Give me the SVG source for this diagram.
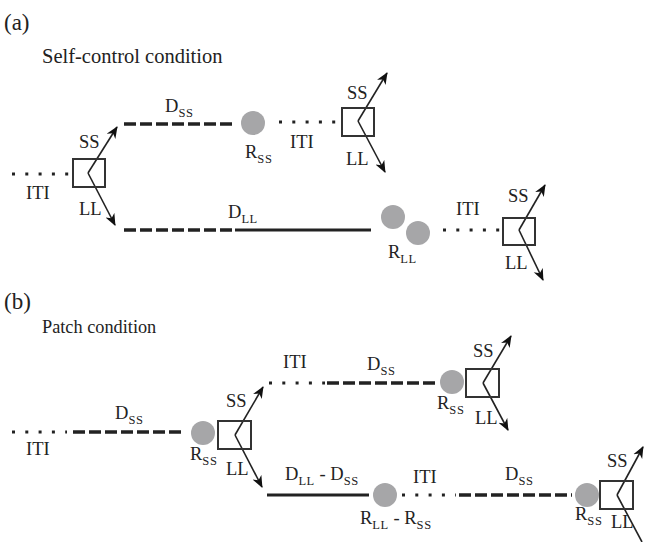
<svg xmlns="http://www.w3.org/2000/svg" width="645" height="542" viewBox="0 0 645 542">
<style>
text{font-family:"Liberation Serif","Times New Roman",serif;fill:#222;}
.lab{font-size:18.5px;}
.sub{font-size:12.5px;letter-spacing:0.6px;}
.title{font-size:23px;}
.box{fill:none;stroke:#333;stroke-width:2;}
.rew{fill:#a6a6a8;}
.dash{stroke:#222;stroke-width:3.5;stroke-dasharray:12 4;fill:none;}
.solid{stroke:#222;stroke-width:3.2;fill:none;}
.dots{stroke:#222;stroke-width:3;stroke-dasharray:3 10.3;fill:none;}
.arr{stroke:#222;stroke-width:1.6;fill:none;marker-end:url(#ah);}
.arrn{stroke:#222;stroke-width:1.6;fill:none;}
</style>
<defs>
<marker id="ah" markerUnits="userSpaceOnUse" markerWidth="13" markerHeight="11" refX="11" refY="5" orient="auto" viewBox="0 0 13 10">
<path d="M0,0 L12,5 L0,10 L3.5,5 z" fill="#111"/>
</marker>
</defs>

<text class="title" x="4" y="30">(a)</text>
<text x="42" y="63" style="font-size:20.5px">Self-control condition</text>
<text class="title" x="4" y="309">(b)</text>
<text x="42" y="333" style="font-size:18.3px">Patch condition</text>

<g id="connectors">
<!-- panel a -->
<line class="dots" x1="12" y1="174" x2="70" y2="174"/>
<line class="arr" x1="88" y1="173" x2="117" y2="127"/>
<line class="arr" x1="88" y1="173" x2="115" y2="225"/>
<line class="dash" x1="124" y1="124" x2="235" y2="124"/>
<line class="dash" x1="124" y1="230" x2="235" y2="230"/>
<line class="solid" x1="235" y1="230" x2="371" y2="230"/>
<line class="dots" x1="279" y1="122" x2="337" y2="122"/>
<line class="arr" x1="358" y1="121" x2="387" y2="73"/>
<line class="arr" x1="358" y1="121" x2="385" y2="172"/>
<line class="dots" x1="443" y1="230" x2="500" y2="230"/>
<line class="arr" x1="519" y1="230" x2="545" y2="185"/>
<line class="arr" x1="519" y1="230" x2="543" y2="280"/>
<!-- panel b -->
<line class="dots" x1="12" y1="432" x2="67" y2="432"/>
<line class="dash" x1="73" y1="432" x2="184" y2="432"/>
<line class="arr" x1="235" y1="435" x2="263" y2="387"/>
<line class="arr" x1="235" y1="435" x2="262" y2="487"/>
<line class="dots" x1="269" y1="383" x2="325" y2="383"/>
<line class="dash" x1="327" y1="383" x2="438" y2="383"/>
<line class="arr" x1="483" y1="383" x2="511" y2="336"/>
<line class="arr" x1="483" y1="383" x2="508" y2="430"/>
<line class="solid" x1="267" y1="495" x2="369" y2="495"/>
<line class="dots" x1="402" y1="495" x2="456" y2="495"/>
<line class="dash" x1="459" y1="495" x2="572" y2="495"/>
<line class="arr" x1="617" y1="495" x2="643" y2="447"/>
<line class="arrn" x1="617" y1="495" x2="642" y2="542"/>
</g>

<g id="choice-a1"><rect class="box" x="73" y="159" width="32" height="28"/></g>
<g id="reward-a-ss"><circle class="rew" cx="253" cy="123" r="12"/></g>
<g id="choice-a2"><rect class="box" x="342" y="108" width="32" height="28"/></g>
<g id="reward-a-ll"><circle class="rew" cx="393" cy="217" r="12"/><circle class="rew" cx="418" cy="233" r="12"/></g>
<g id="choice-a3"><rect class="box" x="503" y="218" width="32" height="27"/></g>

<g id="reward-b1"><circle class="rew" cx="203" cy="433" r="12"/></g>
<g id="choice-b1"><rect class="box" x="218" y="421" width="33" height="28"/></g>
<g id="reward-b2"><circle class="rew" cx="452" cy="382" r="12"/></g>
<g id="choice-b2"><rect class="box" x="466" y="369" width="33" height="28"/></g>
<g id="reward-b3"><circle class="rew" cx="385" cy="495" r="12"/></g>
<g id="reward-b4"><circle class="rew" cx="587" cy="495" r="12"/></g>
<g id="choice-b3"><rect class="box" x="600" y="481" width="33" height="28"/></g>

<g id="labels" class="lab">
<!-- panel a -->
<text x="26" y="199">ITI</text>
<text x="79" y="148">SS</text>
<text x="79" y="215">LL</text>
<text x="165" y="112">D<tspan class="sub" dy="5">SS</tspan></text>
<text x="245" y="158">R<tspan class="sub" dy="5">SS</tspan></text>
<text x="290" y="148">ITI</text>
<text x="347" y="99">SS</text>
<text x="346" y="165">LL</text>
<text x="228" y="218">D<tspan class="sub" dy="5">LL</tspan></text>
<text x="388" y="258">R<tspan class="sub" dy="5">LL</tspan></text>
<text x="456" y="215">ITI</text>
<text x="508" y="202">SS</text>
<text x="505" y="269">LL</text>
<!-- panel b -->
<text x="26" y="455">ITI</text>
<text x="115" y="419">D<tspan class="sub" dy="5">SS</tspan></text>
<text x="190" y="460">R<tspan class="sub" dy="5">SS</tspan></text>
<text x="226" y="407">SS</text>
<text x="226" y="475">LL</text>
<text x="283" y="368">ITI</text>
<text x="367" y="370">D<tspan class="sub" dy="5">SS</tspan></text>
<text x="437" y="409">R<tspan class="sub" dy="5">SS</tspan></text>
<text x="473" y="357">SS</text>
<text x="475" y="424">LL</text>
<text x="285" y="480">D<tspan class="sub" dy="5">LL</tspan><tspan dy="-5"> - D</tspan><tspan class="sub" dy="5">SS</tspan></text>
<text x="413" y="483">ITI</text>
<text x="360" y="524">R<tspan class="sub" dy="5">LL</tspan><tspan dy="-5"> - R</tspan><tspan class="sub" dy="5">SS</tspan></text>
<text x="505" y="480">D<tspan class="sub" dy="5">SS</tspan></text>
<text x="575" y="520">R<tspan class="sub" dy="5">SS</tspan></text>
<text x="607" y="467">SS</text>
<text x="611" y="528">LL</text>
</g>
</svg>
